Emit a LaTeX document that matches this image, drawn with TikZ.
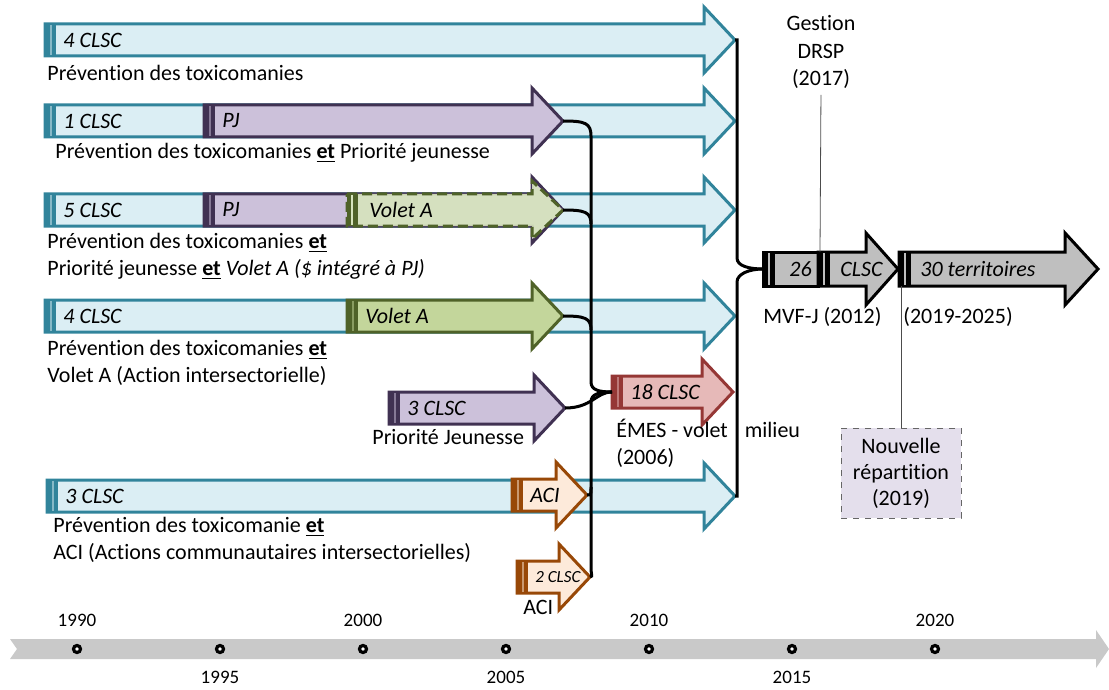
\documentclass[tikz,border=0pt]{standalone}
\usepackage{fontspec}
\setmainfont{Carlito}[Ligatures=NoCommon]
\usepackage{tikz}
\usetikzlibrary{positioning,calc}
\definecolor{tealfill}{HTML}{DBEEF4}
\definecolor{tealline}{HTML}{31849B}
\definecolor{pjfill}{HTML}{CCC1DA}
\definecolor{pjline}{HTML}{403152}
\definecolor{vafill}{HTML}{C3D69B}
\definecolor{valight}{HTML}{D7E4BD}
\definecolor{valine}{HTML}{4F6228}
\definecolor{acifill}{HTML}{FDEADA}
\definecolor{aciline}{HTML}{984807}
\definecolor{emesfill}{HTML}{E6B9B8}
\definecolor{emesline}{HTML}{953735}
\definecolor{mvffill}{HTML}{BFBFBF}
\definecolor{nouvfill}{HTML}{E4DFEC}
\definecolor{tlfill}{HTML}{C9C9C9}
\newcommand\etu{\underline{\textbf{et}}}

\begin{document}
\begin{tikzpicture}[x=0.5pt,y=-0.5pt,
    bar/.style={line width=1.5pt},
    barlabel/.style={anchor=west,inner sep=0pt,font=\fontsize{11}{13}\selectfont\itshape},
    txt/.style={anchor=west,inner sep=0pt,align=left,font=\fontsize{11}{13.5}\selectfont},
    brace/.style={line width=1.5pt,black},
    leader/.style={black!70,line width=0.4pt},
    year/.style={font=\fontsize{9.5}{11}\selectfont}]
    \useasboundingbox (0,0) rectangle (1109,690);
    \foreach \xa/\xb/\y/\fc/\lc/\name/\lab in {45/735/40/tealfill/tealline/t1/4 CLSC,45/735/121/tealfill/tealline/t2/1 CLSC,45/735/210/tealfill/tealline/t3/5 CLSC,45/735/316/tealfill/tealline/t4/4 CLSC,47/735/496/tealfill/tealline/t6/3 CLSC,204/563/121/pjfill/pjline/pj1/PJ,204/563/210/pjfill/pjline/pj2/PJ,389/565/408/pjfill/pjline/pj3/3 CLSC,347/563/316/vafill/valine/va1/Volet A,512/587/495/acifill/aciline/aci1/ACI,517/590/577/acifill/aciline/aci2/{\fontsize{8.5}{10}\selectfont 2 CLSC},612/733/392/emesfill/emesline/emes/18 CLSC} {
      \draw[bar,draw=\lc,fill=\fc] (\xa,\y-16) -- (\xb-31,\y-16) -- (\xb-31,\y-33) -- (\xb,\y) -- (\xb-31,\y+33) -- (\xb-31,\y+16) -- (\xa,\y+16) -- cycle;
      \fill[\lc] (\xa,\y-16) rectangle (\xa+11,\y+16);
      \draw[\fc!50!\lc,line width=0.6pt] (\xa+6,\y-15) -- (\xa+6,\y+15);
      \coordinate (\name) at (\xb,\y);
      \coordinate (\name-s) at (\xa,\y);
      \node[barlabel] at (\xa+18,\y) {\lab};
    }
    \draw[bar,draw=valine,fill=valight,fill opacity=0.9,dash pattern=on 5pt off 2.5pt] (347,194) -- (532,194) -- (532,181) -- (563,210) -- (532,239) -- (532,226) -- (347,226) -- cycle;
    \fill[valine] (347,194) rectangle (358,226);
    \draw[valight,line width=0.6pt] (352,195) -- (352,225);
    \coordinate (va2) at (563,210);
    \node[barlabel] at (369,210) {Volet A};
    \draw[bar,black,fill=mvffill] (763,252) rectangle (818,286);
    \draw[bar,black,fill=mvffill] (818,252) -- (866,252) -- (866,233) -- (898,269) -- (866,305) -- (866,286) -- (818,286) -- cycle;
    \draw[bar,black,fill=mvffill] (899,252) -- (1065,252) -- (1065,233) -- (1098,269) -- (1065,305) -- (1065,286) -- (899,286) -- cycle;
    \foreach \xa in {763,818,899} {
      \fill (\xa,252) rectangle (\xa+12,286);
      \draw[mvffill,line width=0.6pt] (\xa+6,253) -- (\xa+6,285);
    }
    \coordinate (mvf) at (763,269);
    \coordinate (drsp) at (820,252);
    \coordinate (terr) at (901,286);
    \node[barlabel] at (789,269) {26};
    \node[barlabel] at (840,269) {CLSC};
    \node[barlabel] at (920,269) {30 territoires};
    \draw[brace] (pj1) .. controls (585,121) and (591,123) .. (591,136) -- (591,382) .. controls (591,390) and (599,392) .. (emes-s);
    \draw[brace] (pj2) .. controls (585,210) and (591,212) .. (591,224);
    \draw[brace] (va1) .. controls (585,316) and (591,318) .. (591,330);
    \draw[brace] (pj3) .. controls (592,408) and (596,392) .. (emes-s);
    \draw[brace] (aci1) .. controls (591,495) .. (591,487);
    \draw[brace] (aci2) .. controls (592,577) .. (591,570) -- (591,402) .. controls (591,394) and (599,392) .. (emes-s);
    \draw[brace] (t1) -- ++(2,0) -- ++(0,218) .. controls +(0,8) and +(-14,0) .. (mvf);
    \draw[brace] (t6) -- ++(2,0) -- ++(0,-214) .. controls +(0,-8) and +(-14,0) .. (mvf);
    \node[txt] (prev1) at (47,73) {Prévention des toxicomanies};
    \node[txt] (prev2) at (55,153) {Prévention des toxicomanies \etu{} Priorité jeunesse};
    \node[txt] (prev3) at (47,256) {Prévention des toxicomanies \etu\\Priorité jeunesse \etu{} \textit{Volet A (\$ intégré à PJ)}};
    \node[txt] (prev4) at (47,363) {Prévention des toxicomanies \etu\\Volet A (Action intersectorielle)};
    \node[txt] (prio) at (372,437) {Priorité Jeunesse};
    \node[txt] (prev6) at (53,540) {Prévention des toxicomanie \etu\\ACI (Actions communautaires intersectorielles)};
    \node[txt] (aciT) at (523,607) {ACI};
    \node[txt] (emesT) at (616,443) {ÉMES - volet\hspace{8.5pt}milieu\\(2006)};
    \node[txt] (mvfT) at (763,317) {MVF-J (2012)};
    \node[txt] (terrT) at (903,317) {(2019-2025)};
    \node[align=center,inner sep=0pt,font=\fontsize{11}{13.75}\selectfont] (gestion) at (821,52) {Gestion\\DRSP\\(2017)};
    \node[draw=black!60,dashed,fill=nouvfill,minimum width=60pt,minimum height=45pt,align=center,font=\fontsize{11}{13}\selectfont] (nouv) at (901,473) {Nouvelle\\répartition\\(2019)};
    \draw[leader,shorten <=3pt] (gestion.south) -- (drsp);
    \draw[leader] (terr) -- (nouv.north);
    \fill[tlfill] (10,639) -- (1096,639) -- (1096,630) -- (1109,649) -- (1096,668) -- (1096,659) -- (10,659) -- (17,649) -- cycle;
    \foreach \x/\yr/\ypos in {77/1990/620,220/1995/677,363/2000/620,506/2005/677,649/2010/620,792/2015/677,935/2020/620} {
      \draw[line width=1.6pt,fill=white] (\x,649) circle (3.5);
      \node[year] (y\yr) at (\x,\ypos) {\yr};
    }
\end{tikzpicture}
\end{document}
